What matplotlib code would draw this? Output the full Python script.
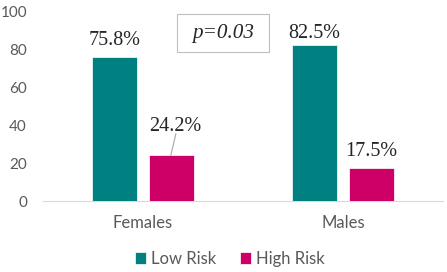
"""Risk level by sex, grouped bars."""

import matplotlib as mpl
import matplotlib.pyplot as plt
import numpy as np
from matplotlib.patches import Rectangle

TEAL = "#008080"
MAGENTA = "#CC0066"
TICK = "#595959"
AXIS = "#D9D9D9"
INK = "#262626"

GROUPS = ["Females", "Males"]
SERIES = ["Low Risk", "High Risk"]
LOW_RISK = [75.8, 82.5]
HIGH_RISK = [24.2, 17.5]
Y_TICKS = [0, 20, 40, 60, 80, 100]
P_TEXT = "p=0.03"

mpl.rcParams.update({"font.family": "Lato"})

fig = plt.figure(figsize=(4.47, 2.72), dpi=100)
ax = fig.add_axes([0.096, 0.261, 0.895, 0.697])

x = np.arange(len(GROUPS))
w = 0.225
off = 0.1425
ax.bar(x - off, LOW_RISK, w, color=TEAL, edgecolor="white", lw=0.5, label=SERIES[0], zorder=3)
ax.bar(x + off, HIGH_RISK, w, color=MAGENTA, edgecolor="white", lw=0.5, label=SERIES[1], zorder=3)

serif = ["Liberation Serif", "DejaVu Serif"]
lab = dict(ha="center", va="baseline", fontsize=14.5, family=serif, color=INK)
for xi, v, dy in zip(x - off, LOW_RISK, [6.3, 3.3]):
    ax.text(xi, v + dy, f"{v:.1f}%", **lab)

# Females high risk: label lifted, with a leader line down to the bar
ax.text(x[0] + off + 0.02, HIGH_RISK[0] + 12.6, f"{HIGH_RISK[0]:.1f}%", **lab)
ax.plot([x[0] + off - 0.003, x[0] + off + 0.022], [HIGH_RISK[0], HIGH_RISK[0] + 11.2],
        color="#A6A6A6", lw=0.8, zorder=4)
ax.text(x[1] + off, HIGH_RISK[1] + 6.3, f"{HIGH_RISK[1]:.1f}%", **lab)

ax.add_patch(Rectangle((0.17, 78.4), 0.46, 20, fc="white", ec="#BFBFBF", lw=0.8,
                       clip_on=False, zorder=2))
ax.text(0.4, 88.4, P_TEXT, ha="center", va="center", fontsize=15.2, family=serif,
        style="italic", color=INK, zorder=3)

ax.set_xlim(-0.5, 1.5)
ax.set_ylim(0, 100)
ax.set_yticks(Y_TICKS)
ax.set_xticks(x)
ax.set_xticklabels(GROUPS)
for side in ["top", "right", "left"]:
    ax.spines[side].set_visible(False)
ax.spines["bottom"].set_color(AXIS)
ax.tick_params(axis="y", length=0, pad=11.5, labelsize=11, labelcolor=TICK)
ax.tick_params(axis="x", length=0, pad=10, labelsize=12, labelcolor=TICK)

ax.legend(loc="center", bbox_to_anchor=(0.467, -0.305), ncol=2, frameon=False, fontsize=12,
          handlelength=0.7, handleheight=0.7, handletextpad=0.3, columnspacing=1.4,
          labelcolor=TICK)

fig.savefig("out.png", dpi=100)
